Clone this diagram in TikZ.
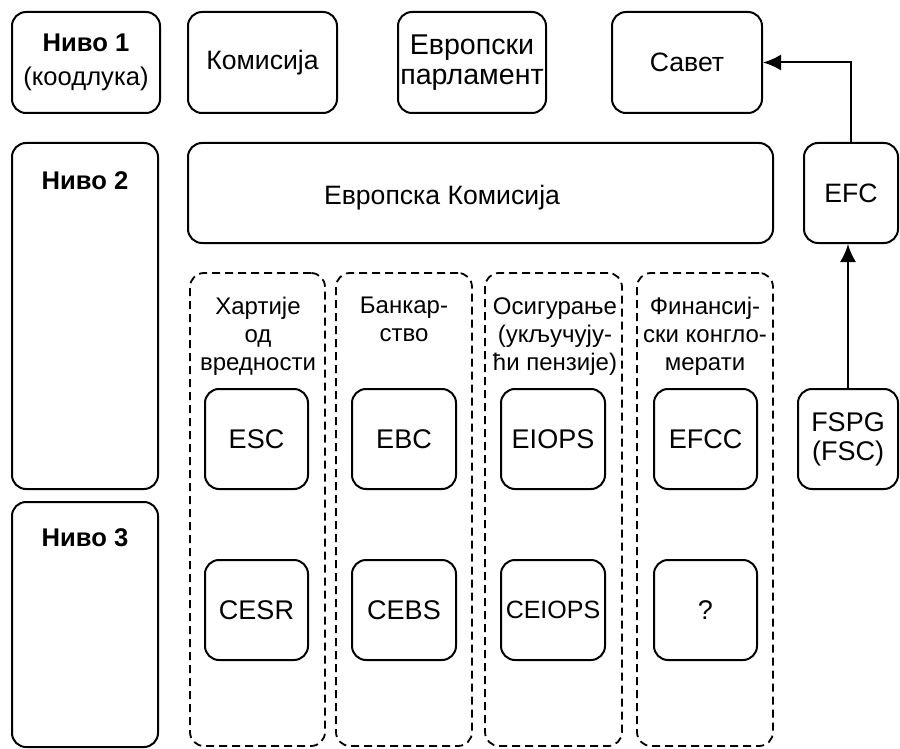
\documentclass[tikz,border=0pt]{standalone}
\usepackage{fontspec}
\setmainfont{Liberation Sans}
\usetikzlibrary{arrows.meta}
\begin{document}
\begin{tikzpicture}[x=0.5pt,y=-0.5pt,
    font=\fontsize{13.3}{14.5}\selectfont,
    blok/.style={draw,line width=1pt,rounded corners=7pt,align=center,inner sep=0pt},
    grupa/.style={draw,line width=0.9pt,dash pattern=on 4pt off 2.5pt,rounded corners=7pt,inner sep=0pt},
    naslov/.style={align=center,inner sep=0pt,anchor=north},
    strela/.style={line width=1pt,-{Latex[length=9pt,width=8pt]}}]
\useasboundingbox (0,0) rectangle (900,749);
\node[blok,minimum width=74pt,minimum height=50.5pt,font=\fontsize{12.8}{14}\selectfont] (n1) at (86,62.5) {\textbf{Ниво 1}\\[3pt](коодлука)};
\node[blok,minimum width=74.5pt,minimum height=50.5pt] (kom) at (262.5,62.5) {Комисија};
\node[blok,minimum width=74pt,minimum height=50.5pt,font=\fontsize{14.3}{15}\selectfont] (ep) at (472,62.5) {Европски\\парламент};
\node[blok,minimum width=75pt,minimum height=50.5pt] (savet) at (687,62.5) {Савет};
\node[blok,minimum width=73pt,minimum height=173pt] (n2) at (85,316) {};
\node[naslov,font=\fontsize{12.8}{14}\selectfont] (n2t) at (85,171) {\textbf{Ниво 2}};
\node[blok,minimum width=292.5pt,minimum height=50pt] (ek) at (480.5,193) {};
\node[inner sep=0pt] (ekt) at (442,198) {Европска Комисија};
\node[blok,minimum width=47pt,minimum height=50pt] (efc) at (851,193) {EFC};
\node[blok,minimum width=73pt,minimum height=122.5pt] (n3) at (85,624.5) {};
\node[naslov,font=\fontsize{12.8}{14}\selectfont] (n3t) at (85,528) {\textbf{Ниво 3}};
\node[grupa,minimum width=67.5pt,minimum height=236.5pt] (g1) at (257.5,509.5) {};
\node[grupa,minimum width=68pt,minimum height=236.5pt] (g2) at (404,509.5) {};
\node[grupa,minimum width=68.5pt,minimum height=236.5pt] (g3) at (553.5,509.5) {};
\node[grupa,minimum width=68pt,minimum height=236.5pt] (g4) at (705,509.5) {};
\tikzset{every node/.append style={font=\fontsize{12}{14}\selectfont}}
\node[naslov] (t1) at (258,297) {Хартије\\од\\вредности};
\node[naslov] (t2) at (404,297) {Банкар-\\ство};
\node[naslov] (t3) at (555,297) {Осигурање\\(укључују-\\ћи пензије)};
\node[naslov] (t4) at (705,297) {Финансиј-\\ски конгло-\\мерати};
\tikzset{every node/.append style={font=\fontsize{13.5}{14.5}\selectfont}}
\node[blok,minimum width=51.5pt,minimum height=50pt] (esc) at (256.5,439) {ESC};
\node[blok,minimum width=52pt,minimum height=50pt] (ebc) at (404,439) {EBC};
\node[blok,minimum width=52pt,minimum height=50pt] (eiops) at (553,439) {EIOPS};
\node[blok,minimum width=51.5pt,minimum height=50pt] (efcc) at (705.5,439) {EFCC};
\node[blok,minimum width=50pt,minimum height=50pt] (fspg) at (848,439) {FSPG\\(FSC)};
\node[blok,minimum width=51.5pt,minimum height=50pt] (cesr) at (256.5,610) {CESR};
\node[blok,minimum width=52pt,minimum height=50pt] (cebs) at (404,610) {CEBS};
\node[blok,minimum width=52pt,minimum height=50pt,font=\fontsize{12.5}{14}\selectfont] (ceiops) at (553,610) {CEIOPS};
\node[blok,minimum width=51.5pt,minimum height=50pt] (upit) at (705.5,610) {?};
\draw[strela] (fspg.north) -- (fspg.north |- efc.south);
\draw[strela] (efc.north) |- (savet.east);
\end{tikzpicture}
\end{document}
